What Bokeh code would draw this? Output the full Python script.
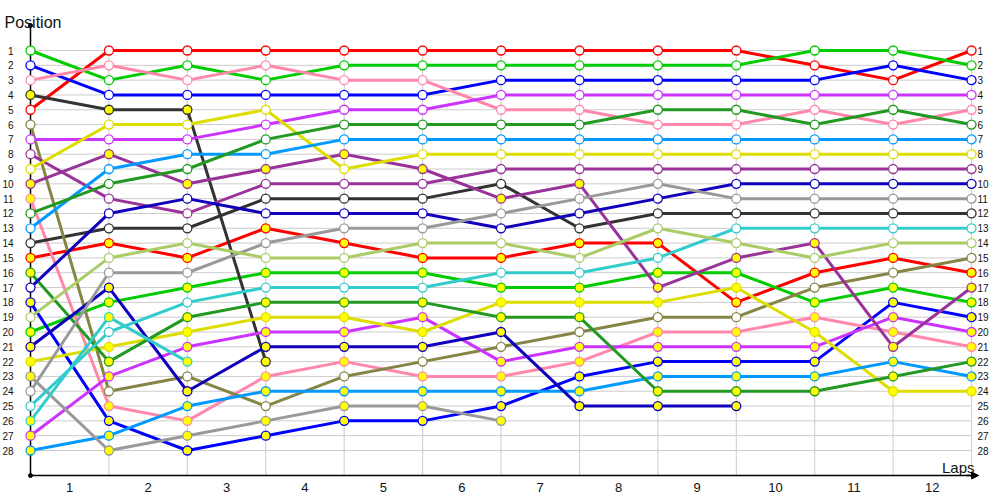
from bokeh.plotting import figure
from bokeh.models import Range1d, Arrow, NormalHead
from bokeh.core.properties import value
from bokeh.embed import file_html
from bokeh.resources import INLINE

# ---------------- data ----------------
laps = list(range(13))                      # lap 0 = start grid
lap_labels = [str(i) for i in range(1, 13)]  # x tick labels between gridlines
positions = list(range(1, 29))               # y tick labels

red_a = [5, 1, 1, 1, 1, 1, 1, 1, 1, 1, 2, 3, 1]
red_b = [15, 14, 15, 13, 14, 15, 15, 14, 14, 18, 16, 15, 16]
green_a = [1, 3, 2, 3, 2, 2, 2, 2, 2, 2, 1, 1, 2]
green_b = [20, 18, 17, 16, 16, 16, 17, 17, 16, 16, 18, 17, 18]
blue_a = [2, 4, 4, 4, 4, 4, 3, 3, 3, 3, 3, 2, 3]
blue_b = [18, 26, 28, 27, 26, 26, 25, 23, 22, 22, 22, 18, 19]
pink_a = [3, 2, 3, 2, 3, 3, 5, 5, 6, 6, 5, 6, 5]
pink_b = [11, 25, 26, 23, 22, 23, 23, 22, 20, 20, 19, 20, 21]
dark_a = [14, 13, 13, 11, 11, 11, 10, 13, 12, 12, 12, 12, 12]
dark_b = [4, 5, 5, 22]
olive_a = [6, 24, 23, 25, 23, 22, 21, 20, 19, 19, 17, 16, 15]
violet_a = [7, 7, 7, 6, 5, 5, 4, 4, 4, 4, 4, 4, 4]
violet_b = [27, 23, 21, 20, 20, 19, 22, 21, 21, 21, 21, 19, 20]
purple_a = [8, 11, 12, 10, 10, 10, 9, 9, 9, 9, 9, 9, 9]
purple_b = [10, 8, 10, 9, 8, 9, 11, 10, 17, 15, 14, 21, 17]
yellow_a = [9, 6, 6, 5, 9, 8, 8, 8, 8, 8, 8, 8, 8]
yellow_b = [22, 21, 20, 19, 19, 20, 18, 18, 18, 17, 20, 24, 24]
azure_a = [13, 9, 8, 8, 7, 7, 7, 7, 7, 7, 7, 7, 7]
azure_b = [28, 27, 25, 24, 24, 24, 24, 24, 23, 23, 23, 22, 23]
dgreen_a = [12, 10, 9, 7, 6, 6, 6, 6, 5, 5, 6, 5, 6]
dgreen_b = [16, 22, 19, 18, 18, 18, 19, 19, 24, 24, 24, 23, 22]
navy_a = [17, 12, 11, 12, 12, 12, 13, 12, 11, 10, 10, 10, 10]
navy_b = [21, 17, 24, 21, 21, 21, 20, 25, 25, 25]
gray_a = [24, 16, 16, 14, 13, 13, 12, 11, 10, 11, 11, 11, 11]
gray_b = [23, 28, 27, 26, 25, 25, 26]
cyan_a = [25, 20, 18, 17, 17, 17, 16, 16, 15, 13, 13, 13, 13]
cyan_b = [26, 19, 22]
lgreen_a = [19, 15, 14, 15, 15, 14, 14, 15, 13, 14, 15, 14, 14]

# ---------------- styles ----------------
RED, GREEN, BLUE, PINK = "#ff0000", "#00cc00", "#0000ff", "#ff88aa"
DARK, OLIVE, VIOLET, PURPLE = "#333333", "#858545", "#cc33ff", "#993399"
YELLOW, AZURE, DGREEN, NAVY = "#dddd00", "#0099ff", "#229922", "#1100bb"
GRAY, CYAN, LGREEN = "#999999", "#33cccc", "#aacc66"
FIRST, SECOND = "white", "#ffff00"

drivers = [
    (red_a, RED, FIRST), (red_b, RED, SECOND),
    (green_a, GREEN, FIRST), (green_b, GREEN, SECOND),
    (blue_a, BLUE, FIRST), (blue_b, BLUE, SECOND),
    (pink_a, PINK, FIRST), (pink_b, PINK, SECOND),
    (dark_a, DARK, FIRST), (dark_b, DARK, SECOND),
    (olive_a, OLIVE, FIRST),
    (violet_a, VIOLET, FIRST), (violet_b, VIOLET, SECOND),
    (purple_a, PURPLE, FIRST), (purple_b, PURPLE, SECOND),
    (yellow_a, YELLOW, FIRST), (yellow_b, YELLOW, SECOND),
    (azure_a, AZURE, FIRST), (azure_b, AZURE, SECOND),
    (dgreen_a, DGREEN, FIRST), (dgreen_b, DGREEN, SECOND),
    (navy_a, NAVY, FIRST), (navy_b, NAVY, SECOND),
    (gray_a, GRAY, FIRST), (gray_b, GRAY, SECOND),
    (cyan_a, CYAN, FIRST), (cyan_b, CYAN, SECOND),
    (lgreen_a, LGREEN, FIRST),
]

# ---------------- geometry ----------------
W, H = 992, 497
X0_PX, PX_LAP = 30.0, 78.42        # canvas px of lap 0, px per lap
Y1_PX, PX_POS = 50.0, 400.0 / 27   # canvas px of position 1, px per position
x_start = -X0_PX / PX_LAP
x_end = (W - X0_PX) / PX_LAP
y_top = 1 - Y1_PX / PX_POS
y_bot = 1 + (H - Y1_PX) / PX_POS
AXIS_TOP = 1 - 25.0 / PX_POS
AXIS_BOTTOM = 28 + 25.0 / PX_POS
AXIS_XEND = 12.09

p = figure(width=W, height=H, output_backend="svg", toolbar_location=None,
           x_range=Range1d(x_start, x_end), y_range=Range1d(y_bot, y_top),
           x_axis_location=None, y_axis_location=None, min_border=0,
           outline_line_color=None, title=None)
p.grid.visible = False
p.background_fill_color = "white"
p.border_fill_color = "white"

FONT = value("Liberation Sans")

# grid
first_lap, last_lap = laps[0], laps[-1]
p.segment(x0=[first_lap] * len(positions), x1=[last_lap] * len(positions),
          y0=positions, y1=positions, line_color="#cccccc", line_width=1)
p.segment(x0=laps, x1=laps, y0=[positions[0]] * len(laps),
          y1=[AXIS_BOTTOM] * len(laps), line_color="#cccccc", line_width=1)

# axes
p.segment(x0=[first_lap], x1=[first_lap], y0=[AXIS_TOP], y1=[AXIS_BOTTOM],
          line_color="black", line_width=1.5)
p.segment(x0=[first_lap], x1=[AXIS_XEND - 0.05], y0=[AXIS_BOTTOM], y1=[AXIS_BOTTOM],
          line_color="black", line_width=1.5)
p.add_layout(Arrow(end=NormalHead(size=7, fill_color="black", line_color="black"),
                   x_start=AXIS_XEND - 0.15, y_start=AXIS_BOTTOM,
                   x_end=AXIS_XEND, y_end=AXIS_BOTTOM,
                   line_color="black", line_width=1.5))
p.scatter(x=[first_lap, first_lap], y=[AXIS_TOP, AXIS_BOTTOM], size=4,
          fill_color="black", line_color="black")

# tick labels
p.text(x=[first_lap] * len(positions), y=positions, text=[str(v) for v in positions],
       x_offset=-17, text_align="right", text_baseline="middle",
       text_font=FONT, text_font_size="10px", text_color="#111111")
p.text(x=[last_lap] * len(positions), y=positions, text=[str(v) for v in positions],
       x_offset=6, text_align="left", text_baseline="middle",
       text_font=FONT, text_font_size="10px", text_color="#111111")
p.text(x=[l + 0.5 for l in laps[:-1]], y=[AXIS_BOTTOM] * len(lap_labels), text=lap_labels,
       y_offset=12, text_align="center", text_baseline="middle",
       text_font=FONT, text_font_size="13px", text_color="#111111")

# axis titles
p.text(x=[first_lap], y=[AXIS_TOP], text=["Position"], x_offset=-26, y_offset=-3,
       text_align="left", text_baseline="alphabetic",
       text_font=FONT, text_font_size="16px", text_color="#111111")
p.text(x=[last_lap], y=[AXIS_BOTTOM], text=["Laps"], x_offset=3, y_offset=-8,
       text_align="right", text_baseline="alphabetic",
       text_font=FONT, text_font_size="15px", text_color="#111111")

# driver lines
for pos, color, fill in drivers:
    p.line(x=laps[:len(pos)], y=pos, line_color=color, line_width=3)
for pos, color, fill in drivers:
    p.scatter(x=laps[:len(pos)], y=pos, size=9, marker="circle",
              fill_color=fill, line_color=color, line_width=1.3)

open("out.html", "w").write(file_html(p, INLINE))
